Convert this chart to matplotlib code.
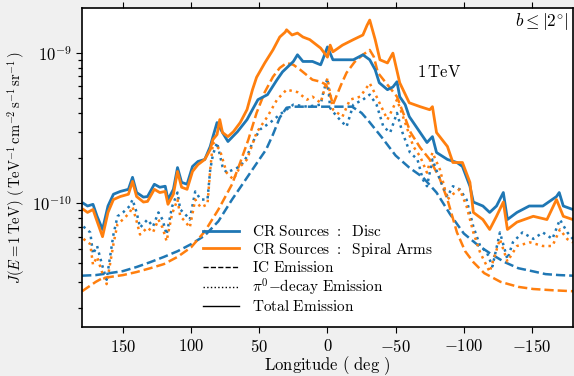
import numpy as np
import matplotlib
matplotlib.use('Agg')
import matplotlib.pyplot as plt
from matplotlib.lines import Line2D
from matplotlib.ticker import NullFormatter, NullLocator

plt.rcParams['mathtext.fontset'] = 'cm'
plt.rcParams['font.family'] = 'serif'
plt.rcParams['font.serif'] = ['cmr10', 'DejaVu Serif']
plt.rcParams['axes.formatter.use_mathtext'] = True
plt.rcParams['axes.unicode_minus'] = True

# flux values in units of 1e-10 TeV^-1 cm^-2 s^-1 sr^-1
# IC emission
ic_disc_lon = [180, 170, 160, 150, 140, 130, 120, 110, 100, 90, 80, 70, 60, 50, 45, 40, 35, 30, 25,
               20, 10, 0, -10, -18, -25, -30, -40, -50, -60, -70, -80, -90, -100, -110, -120,
               -130, -140, -150, -160, -170, -180]
ic_disc = [0.33, 0.333, 0.343, 0.354, 0.377, 0.406, 0.44, 0.48, 0.535, 0.61, 0.76, 1.06, 1.44, 1.96,
           2.28, 2.87, 3.72, 4.33, 4.4, 4.4, 4.4, 4.4, 4.4, 4.4, 4.0, 3.55, 2.74, 2.08, 1.73, 1.49,
           1.18, 0.845, 0.63, 0.53, 0.46, 0.406, 0.37, 0.354, 0.338, 0.333, 0.33]

ic_arms_lon = [180, 170, 165, 160, 150, 140, 130, 120, 110, 100, 90, 80, 70, 64, 58, 52, 46, 40, 35,
               30, 25, 20, 11, 5, 1, -2, -4, -7, -10, -14, -20, -26, -31, -34, -37, -44, -51, -56,
               -61, -68, -75, -82, -88, -95, -101, -107, -115, -127, -140, -151, -165, -180]
ic_arms = [0.26, 0.30, 0.318, 0.323, 0.333, 0.349, 0.37, 0.394, 0.44, 0.51, 0.65, 0.91, 1.34, 1.87,
           2.66, 4.0, 5.5, 6.95, 7.97, 8.6, 8.36, 7.75, 6.65, 6.45, 6.16, 5.29, 4.54, 5.29, 6.16, 7.4,
           8.75, 9.75, 10.5, 9.45, 7.4, 6.16, 5.13, 3.9, 2.96, 2.35, 1.96, 1.49, 1.06, 0.64, 0.48,
           0.406, 0.343, 0.30, 0.278, 0.269, 0.264, 0.26]

# pi0-decay emission
pi_disc_lon = [179, 174, 172, 169, 165, 162, 157, 154, 150, 145, 143, 140, 137.5, 132, 128, 124, 121,
               118, 114, 110, 108, 104.5, 101, 97, 93, 88, 86, 84, 81, 77, 74, 69, 64, 59, 55, 49.5,
               42, 35, 30, 25, 15, 5, 3, 0, -2, -7, -14, -19, -26, -31, -36, -41, -46, -51, -55,
               -60.5, -66, -70, -73, -77, -82.5, -88, -92, -97, -102, -107, -112, -117, -121,
               -126.5, -132, -136, -143, -151, -158, -165, -170.5, -176, -180]
pi_disc = [0.7, 0.64, 0.46, 0.52, 0.38, 0.31, 0.62, 0.82, 0.87, 0.96, 1.06, 0.87, 0.69, 0.78, 0.7,
           0.87, 0.78, 0.62, 0.95, 1.18, 0.91, 0.85, 0.78, 1.2, 1.06, 1.06, 1.68, 2.11, 2.54, 1.76,
           1.6, 1.68, 1.76, 2.05, 2.54, 3.1, 3.45, 3.9, 4.21, 4.54, 4.4, 4.54, 5.5, 6.8, 4.3, 3.78,
           3.24, 4.54, 4.9, 5.29, 4.54, 3.24, 2.96, 4.0, 2.96, 2.18, 1.96, 1.44, 1.3, 1.96, 1.44,
           1.11, 1.3, 1.24, 1.06, 0.7, 0.52, 0.47, 0.38, 0.64, 0.425, 0.55, 0.64, 0.58, 0.64, 0.58,
           0.78, 0.64, 0.58]

pi_arms_lon = [179, 174, 172, 169, 165, 162, 157, 154, 150, 145, 143, 140, 137.5, 132, 128, 124, 121,
               118, 114, 110, 108, 104.5, 101, 97, 93, 88, 86, 84, 79, 74, 69, 64, 59, 52, 44, 37,
               30, 22, 15, 11, 5, 0, -4, -11, -16.5, -24, -31, -36, -44, -51, -58, -63, -68, -73,
               -77, -82.5, -88, -92, -97, -102, -107, -112, -119, -126.5, -132, -139, -148.5, -158,
               -165, -170.5, -176, -180]
pi_arms = [0.58, 0.535, 0.39, 0.44, 0.34, 0.29, 0.535, 0.73, 0.78, 0.87, 0.95, 0.76, 0.62, 0.69,
           0.64, 0.78, 0.69, 0.56, 0.85, 1.06, 0.82, 0.76, 0.69, 1.06, 0.94, 0.985, 1.68, 2.54, 2.28,
           1.6, 1.44, 1.76, 1.96, 2.96, 3.78, 4.9, 5.71, 5.5, 4.9, 5.13, 4.67, 6.8, 4.21, 3.78, 4.9,
           5.13, 6.3, 5.13, 3.61, 4.9, 3.24, 2.39, 2.05, 1.6, 2.18, 1.68, 1.06, 1.15, 1.24, 0.96,
           0.64, 0.47, 0.35, 0.577, 0.41, 0.52, 0.55, 0.52, 0.52, 0.67, 0.577, 0.55]

# total emission
tot_disc_lon = [179, 176, 172, 169, 165, 161, 157, 152, 146, 143, 140, 135, 132, 127, 123, 119, 117,
                113, 110, 107, 103, 99, 95, 90, 86, 84, 81, 77, 73, 66, 59, 55, 51, 44, 37, 33, 25,
                22, 18, 11, 5, 3, 0, -4, -11, -19, -26, -31, -35, -38, -44, -48, -51, -53, -57, -60,
                -63, -68, -73, -77, -80, -88, -95, -99, -104.5, -107, -114, -119, -124, -129, -132,
                -139, -148, -158, -168, -170, -173, -180]
tot_disc = [1.0, 0.96, 0.985, 0.82, 0.67, 0.96, 1.15, 1.2, 1.24, 1.49, 1.18, 1.1, 1.11, 1.34, 1.28,
            1.3, 1.06, 1.24, 1.73, 1.38, 1.34, 1.76, 1.9, 1.96, 2.39, 2.78, 3.45, 2.96, 2.58, 3.0,
            3.61, 4.21, 4.9, 5.29, 6.65, 7.5, 8.8, 9.75, 8.8, 8.8, 8.36, 9.3, 11.0, 9.03, 9.03, 9.03,
            9.75, 9.03, 7.75, 6.35, 5.71, 5.95, 6.45, 5.13, 4.54, 3.78, 3.45, 2.96, 2.54, 2.78, 2.18,
            1.96, 1.87, 1.76, 1.3, 1.02, 0.96, 0.87, 0.96, 1.18, 0.78, 0.87, 0.96, 0.96, 1.11, 1.18,
            0.96, 0.91]

tot_arms_lon = [179, 176, 172, 169, 165, 161, 157, 152, 146, 143, 140, 135, 132, 127, 123, 119, 117,
                113, 110, 107, 103, 99, 95, 90, 86, 84, 81, 79, 77, 73, 69, 64, 59, 55, 52, 46, 40,
                35, 31, 30, 26, 22, 18, 13, 5, 0, -2, -4, -11, -19, -26, -29, -31, -35, -38.5, -44,
                -48, -53, -60, -68, -75, -77, -80, -88, -92, -99, -104.5, -107, -114, -119, -124,
                -129, -132, -139, -151, -161, -168, -173, -180]
tot_arms = [0.91, 0.87, 0.91, 0.76, 0.6, 0.87, 1.06, 1.11, 1.15, 1.4, 1.11, 1.02, 1.03, 1.24, 1.18,
            1.2, 0.985, 1.15, 1.63, 1.28, 1.24, 1.63, 1.81, 1.96, 2.28, 2.66, 2.87, 3.61, 2.96, 2.78,
            3.0, 3.45, 4.21, 5.71, 6.9, 8.6, 10.5, 12.8, 13.8, 14.3, 13.2, 13.6, 12.8, 12.3, 10.8,
            9.4, 11.3, 10.2, 11.3, 12.3, 13.2, 15.3, 16.6, 12.3, 9.03, 8.6, 10.0, 6.35, 4.67, 4.4,
            4.2, 4.4, 2.96, 2.39, 1.87, 1.87, 1.38, 0.87, 0.78, 0.67, 0.82, 1.02, 0.67, 0.75, 0.82,
            0.78, 1.06, 0.82, 0.78]

scale = 1e-10
c_disc = '#1f77b4'
c_arms = '#ff7f0e'

fig = plt.figure(figsize=(5.74, 3.76), dpi=100, facecolor='#f0f0f0')
ax = fig.add_axes([0.143, 0.130, 0.855, 0.849])

ax.plot(ic_disc_lon, np.array(ic_disc) * scale, color=c_disc, ls='--', lw=1.8)
ax.plot(ic_arms_lon, np.array(ic_arms) * scale, color=c_arms, ls='--', lw=1.8)
ax.plot(pi_disc_lon, np.array(pi_disc) * scale, color=c_disc, ls=':', lw=1.8)
ax.plot(pi_arms_lon, np.array(pi_arms) * scale, color=c_arms, ls=':', lw=1.8)
ax.plot(tot_disc_lon, np.array(tot_disc) * scale, color=c_disc, ls='-', lw=2)
ax.plot(tot_arms_lon, np.array(tot_arms) * scale, color=c_arms, ls='-', lw=2)

ax.set_yscale('log')
ax.set_xlim(180, -180)
ax.set_ylim(1.5e-11, 2e-9)
ax.set_xticks([150, 100, 50, 0, -50, -100, -150])
ax.xaxis.set_minor_locator(NullLocator())
ax.set_yticks([1e-10 * k for k in [0.2, 0.3, 0.4, 0.5, 0.6, 0.7, 0.8, 0.9,
                                   2, 3, 4, 5, 6, 7, 8, 9]], minor=True)
ax.yaxis.set_minor_formatter(NullFormatter())
ax.tick_params(axis='x', which='both', top=True, direction='out', labelsize=12, length=4)
ax.tick_params(axis='y', which='major', direction='out', labelsize=12, length=4)
ax.tick_params(axis='y', which='minor', direction='out', length=3, width=0.9, left=True)
for s in ax.spines.values():
    s.set_linewidth(1.2)

ax.set_xlabel(r'$\mathrm{Longitude\ (\ deg\ )}$', fontsize=12, labelpad=0)
ax.set_ylabel(r'$J(E=1\,\mathrm{TeV})\ (\,\mathrm{TeV^{-1}\,cm^{-2}\,s^{-1}\,sr^{-1}}\,)$',
              fontsize=10.5, labelpad=3)

ax.text(0.727, 0.80, r'$1\,\mathrm{TeV}$', transform=ax.transAxes, fontsize=12,
        ha='center', va='center')
ax.text(0.99, 0.99, r'$b\leq|2^{\circ}|$', transform=ax.transAxes, fontsize=12.5,
        ha='right', va='top')

handles = [Line2D([], [], color=c_disc, lw=2),
           Line2D([], [], color=c_arms, lw=2),
           Line2D([], [], color='k', ls='--', lw=1),
           Line2D([], [], color='k', ls=':', lw=1),
           Line2D([], [], color='k', ls='-', lw=1)]
labels = [r'$\mathrm{CR\ Sources}\ :\ \ \mathrm{Disc}$',
          r'$\mathrm{CR\ Sources}\ :\ \ \mathrm{Spiral\ Arms}$',
          r'$\mathrm{IC\ Emission}$',
          r'$\pi^0\mathrm{-decay\ Emission}$',
          r'$\mathrm{Total\ Emission}$']
ax.legend(handles, labels, loc='lower left', bbox_to_anchor=(0.246, 0.04), frameon=False,
          fontsize=11, handlelength=2.4, labelspacing=0.1, handletextpad=0.85,
          borderpad=0, borderaxespad=0)

fig.savefig('out.png', dpi=100, facecolor=fig.get_facecolor())
